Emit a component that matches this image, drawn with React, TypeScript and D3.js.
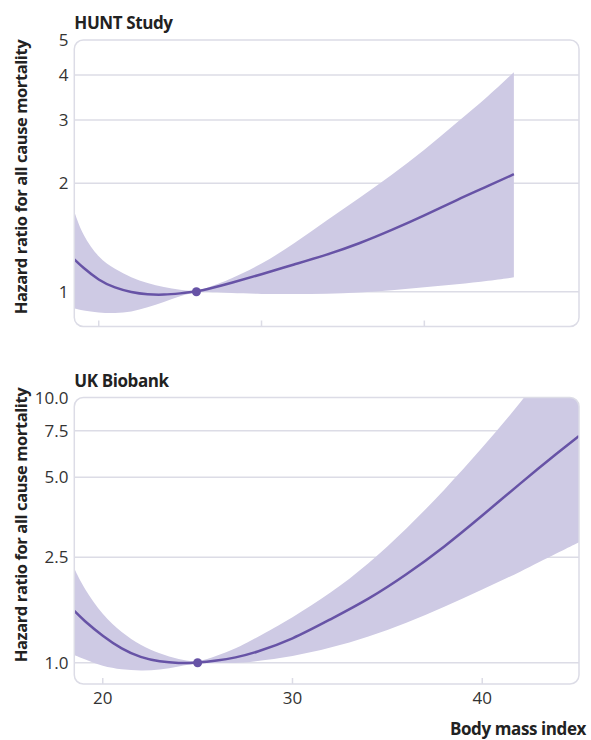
import React from 'react';
import * as d3 from 'd3';

// HUNT Study
const huntBmi = [18.5, 19, 20, 21, 22, 23, 24, 25, 26, 27, 28, 30, 32, 34, 36, 38, 40, 42, 44, 45.5];
const huntHr = [1.23, 1.17, 1.075, 1.024, 0.996, 0.982, 0.98, 0.989, 1.0, 1.025, 1.053, 1.118, 1.19, 1.265, 1.36, 1.483, 1.627, 1.8, 1.973, 2.12];
const huntUpper = [1.668, 1.437, 1.238, 1.156, 1.094, 1.055, 1.029, 1.011, 1.0, 1.039, 1.08, 1.19, 1.36, 1.58, 1.82, 2.11, 2.47, 2.95, 3.51, 4.07];
const huntLower = [0.899, 0.887, 0.874, 0.871, 0.878, 0.904, 0.936, 0.973, 1.0, 0.996, 0.992, 0.985, 0.985, 0.985, 0.995, 1.008, 1.03, 1.048, 1.073, 1.096];
const huntRefBmi = 26;
const huntYTicks = [1, 2, 3, 4, 5];
const huntXTicks = [20, 30, 40];

// UK Biobank
const ukbBmi = [18.5, 19, 20, 21, 22, 23, 24, 25, 26, 27, 28, 30, 32, 34, 36, 38, 40, 42, 44, 45.1];
const ukbHr = [1.569, 1.443, 1.26, 1.126, 1.045, 1.009, 0.995, 1.0, 1.018, 1.045, 1.088, 1.224, 1.458, 1.732, 2.146, 2.73, 3.584, 4.745, 6.21, 7.16];
const ukbUpper = [2.266, 1.91, 1.505, 1.299, 1.161, 1.083, 1.028, 1.0, 1.061, 1.128, 1.232, 1.477, 1.825, 2.354, 3.19, 4.47, 6.46, 9.48, 14.8, 19];
const ukbLower = [1.069, 1.033, 0.968, 0.943, 0.932, 0.939, 0.968, 1.0, 0.997, 0.995, 1.01, 1.054, 1.136, 1.25, 1.41, 1.622, 1.886, 2.2, 2.6, 2.846];
const ukbRefBmi = 25;
const ukbYTicks = [1, 2.5, 5, 7.5, 10];
const ukbXTicks = [20, 30, 40];

const BAND = '#cecae4';
const LINE = '#6753a6';
const GRID = '#dcdce6';
const TEXT = '#333333';
const FONT = '"Open Sans", "Noto Sans", sans-serif';

type PanelProps = {
  id: string;
  title: string;
  bmi: number[];
  hr: number[];
  upper: number[];
  lower: number[];
  refBmi: number;
  yTicks: number[];
  yFmt: (v: number) => string;
  xTicks: number[];
  xDomain: [number, number];
  yDomain: [number, number];
  top: number;
  bottom: number;
  yOneY: number;
  showXLabels: boolean;
  labelCenter: number;
};

const LEFT = 74.3;
const RIGHT = 579;

function Panel(p: PanelProps) {
  const x = d3.scaleLinear().domain(p.xDomain).range([LEFT, RIGHT]);
  const y = d3.scaleLog().domain(p.yDomain).range([p.yOneY, p.top]);
  const rows = p.bmi.map((b, i) => ({ b, hr: p.hr[i], lo: p.lower[i], hi: p.upper[i] }));
  const area = d3
    .area<any>()
    .x((d) => x(d.b))
    .y0((d) => y(d.lo))
    .y1((d) => y(d.hi))
    .curve(d3.curveBasis);
  const line = d3
    .line<any>()
    .x((d) => x(d.b))
    .y((d) => y(d.hr))
    .curve(d3.curveBasis);
  const w = RIGHT - LEFT;
  const h = p.bottom - p.top;
  return (
    <g>
      <defs>
        <clipPath id={p.id}>
          <rect x={LEFT} y={p.top} width={w} height={h} rx={9} ry={9} />
        </clipPath>
      </defs>
      {p.yTicks.map((t) => (
        <g key={t}>
          {y(t) > p.top + 2 && (
            <line x1={LEFT} x2={RIGHT} y1={y(t)} y2={y(t)} stroke={GRID} strokeWidth={1.5} />
          )}
          <text
            x={68.5}
            y={y(t)}
            dy="0.36em"
            textAnchor="end"
            fontFamily={FONT}
            fontSize={17}
            fill={TEXT}
          >
            {p.yFmt(t)}
          </text>
        </g>
      ))}
      <g clipPath={`url(#${p.id})`}>
        <path d={area(rows) || ''} fill={BAND} />
        <path d={line(rows) || ''} fill="none" stroke={LINE} strokeWidth={2.5} />
      </g>
      <rect x={LEFT} y={p.top} width={w} height={h} rx={9} ry={9} fill="none" stroke={GRID} strokeWidth={1.5} />
      {p.xTicks.map((t) => (
        <g key={t}>
          <line x1={x(t)} x2={x(t)} y1={p.bottom} y2={p.bottom - 6} stroke={GRID} strokeWidth={1.5} />
          {p.showXLabels && (
            <text
              x={x(t)}
              y={p.bottom + 19.5}
              textAnchor="middle"
              fontFamily={FONT}
              fontSize={17}
              fill={TEXT}
            >
              {t}
            </text>
          )}
        </g>
      ))}
      <circle cx={x(p.refBmi)} cy={y(1)} r={4.5} fill={LINE} />
      <text x={LEFT} y={p.top - 11} fontFamily={FONT} fontWeight={700} fontSize={17} fill="#222" letterSpacing={-0.4}>
        {p.title}
      </text>
      <text
        transform={`translate(26.5,${p.labelCenter}) rotate(-90)`}
        textAnchor="middle"
        fontFamily={FONT}
        fontWeight={700}
        fontSize={16.5}
        fill="#222"
        letterSpacing={-0.4}
      >
        Hazard ratio for all cause mortality
      </text>
    </g>
  );
}

export default function App() {
  return (
    <svg
      width={591}
      height={740}
      viewBox="0 0 591 740"
      style={{ position: 'absolute', left: 0, top: 0, background: '#fff' }}
    >
      <Panel
        id="clip-hunt"
        title="HUNT Study"
        bmi={huntBmi}
        hr={huntHr}
        upper={huntUpper}
        lower={huntLower}
        refBmi={huntRefBmi}
        yTicks={huntYTicks}
        yFmt={(v) => String(v)}
        xTicks={huntXTicks}
        xDomain={[18.5, 49.5]}
        yDomain={[1, 5]}
        top={40}
        bottom={326.5}
        yOneY={291.7}
        showXLabels={false}
        labelCenter={177}
      />
      <Panel
        id="clip-ukb"
        title="UK Biobank"
        bmi={ukbBmi}
        hr={ukbHr}
        upper={ukbUpper}
        lower={ukbLower}
        refBmi={ukbRefBmi}
        yTicks={ukbYTicks}
        yFmt={(v) => v.toFixed(1)}
        xTicks={ukbXTicks}
        xDomain={[18.5, 45.1]}
        yDomain={[1, 10]}
        top={397.5}
        bottom={684}
        yOneY={662.7}
        showXLabels={true}
        labelCenter={525}
      />
      <text
        x={586}
        y={734.5}
        textAnchor="end"
        fontFamily={FONT}
        fontWeight={700}
        fontSize={17}
        fill="#222"
        letterSpacing={-0.4}
      >
        Body mass index
      </text>
    </svg>
  );
}
